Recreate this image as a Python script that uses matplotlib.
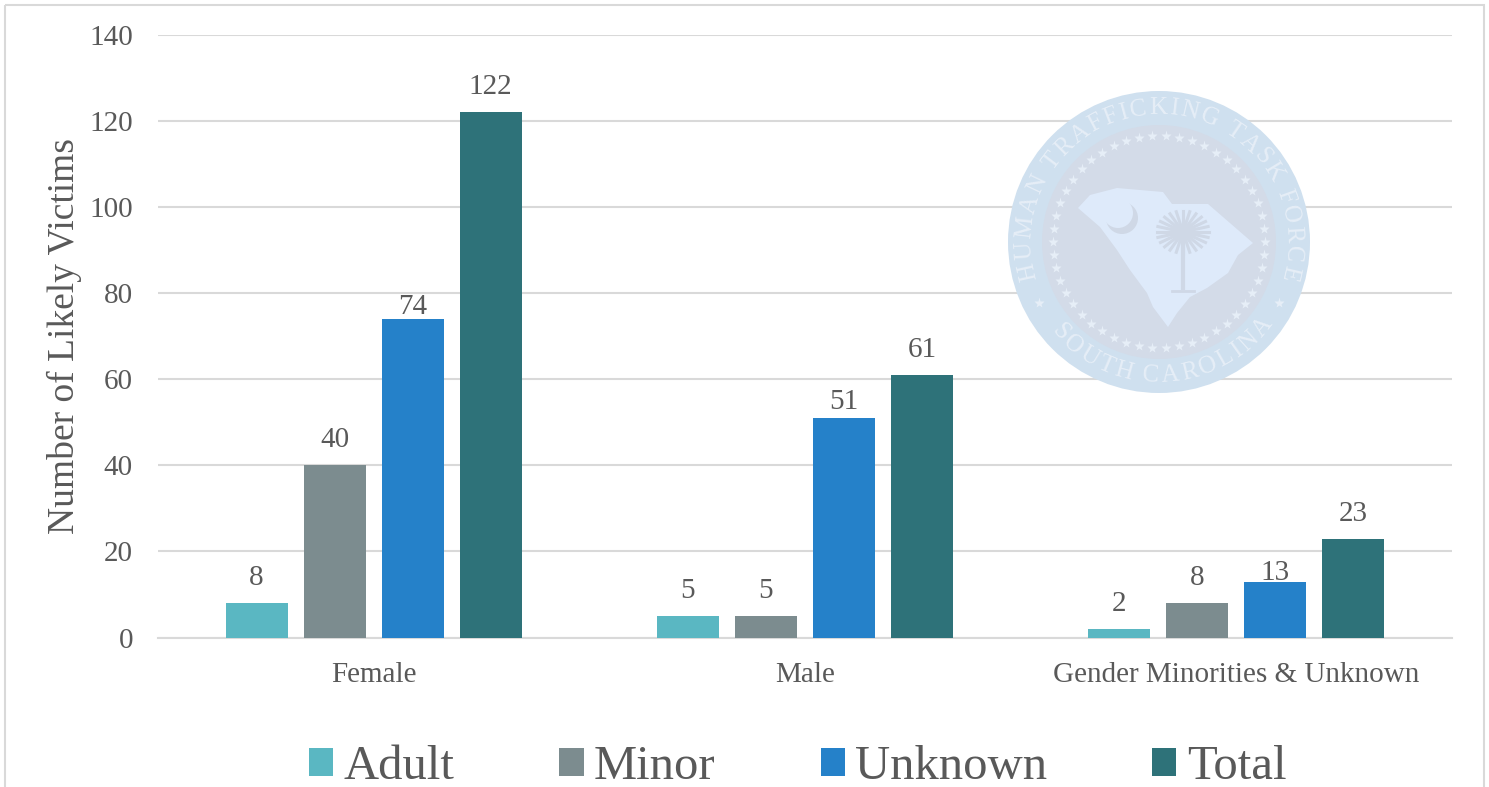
import numpy as np
import matplotlib
matplotlib.use('Agg')
import matplotlib.pyplot as plt
from matplotlib.patches import Circle, Polygon, Rectangle
from matplotlib.font_manager import FontProperties
from matplotlib.textpath import TextToPath

plt.rcParams['font.family'] = ['Liberation Serif', 'DejaVu Serif']

W, H = 1489, 787

categories = ['Female', 'Male', 'Gender Minorities & Unknown']
series_names = ['Adult', 'Minor', 'Unknown', 'Total']
adult = [8, 5, 2]
minor = [40, 5, 8]
unknown = [74, 51, 13]
total = [122, 61, 23]
y_ticks = [0, 20, 40, 60, 80, 100, 120, 140]

colors = ['#5AB7C2', '#7C8C8F', '#2581C9', '#2E7279']
text_grey = '#595959'
grid_grey = '#D9D9D9'

# gap between bar top and label baseline, px (Unknown labels sit lower in the original)
label_gaps = [[18, 18, 18], [18, 18, 18], [5, 9, 2], [18, 18, 18]]

fig = plt.figure(figsize=(W / 100, H / 100), dpi=100, facecolor='white')
ax = fig.add_axes([158 / W, (H - 637.5) / H, 1294 / W, 602.5 / H])

x = np.arange(len(categories))
bar_w = 62 / 431.33
step = 78 / 431.33
all_series = [adult, minor, unknown, total]
for i, vals in enumerate(all_series):
    xs = x + (i - 1.5) * step
    ax.bar(xs, vals, bar_w, color=colors[i], label=series_names[i], zorder=3)
    for xi, v, gap in zip(xs, vals, label_gaps[i]):
        ax.annotate(str(v), (xi, v), xytext=(0, gap * 0.72), textcoords='offset points',
                    ha='center', va='baseline', fontsize=21, color=text_grey, zorder=4)

ax.set_xlim(-0.5, 2.5)
ax.set_ylim(0, 140)
ax.set_yticks(y_ticks)
ax.set_xticks(x)
ax.set_xticklabels(categories)
ax.yaxis.grid(True, color=grid_grey, lw=1.5, zorder=0)
ax.set_axisbelow(True)
for name in ['top', 'left', 'right']:
    ax.spines[name].set_visible(False)
ax.spines['bottom'].set_color(grid_grey)
ax.spines['bottom'].set_linewidth(1.5)
ax.tick_params(axis='y', length=0, pad=18, labelsize=21, labelcolor=text_grey)
ax.tick_params(axis='x', length=0, pad=18, labelsize=21, labelcolor=text_grey)
ax.set_ylabel('Number of Likely Victims', fontsize=27, color=text_grey)
ax.yaxis.set_label_coords((82 - 158) / 1294, 0.501)

handles, labels = ax.get_legend_handles_labels()
fig.legend(handles, labels, ncol=4, loc='lower left', bbox_to_anchor=(309 / W, -2 / H),
           frameon=False, fontsize=35, labelcolor=text_grey, handlelength=0.5, handleheight=0.5,
           handletextpad=0.21, columnspacing=2.16, borderpad=0, borderaxespad=0)

# overlay in image pixels for the frame and the seal watermark
ov = fig.add_axes([0, 0, 1, 1], zorder=5)
ov.set_xlim(0, W)
ov.set_ylim(H, 0)
ov.axis('off')
ov.patch.set_alpha(0)
ov.add_patch(Rectangle((5, 5), 1479, 900, fill=False, ec=grid_grey, lw=1.5))

cx, cy = 1159, 242
seal_light = '#E6EEF7'
seal_dark = '#CFD8E6'
ov.add_patch(Circle((cx, cy), 151, fc='#CFE0EF', ec='none'))
ov.add_patch(Circle((cx, cy), 117, fc='#D3DBE8', ec='none'))

star_angles = np.linspace(0, 360, 50, endpoint=False)
ov.plot(cx + 106 * np.cos(np.radians(star_angles)), cy + 106 * np.sin(np.radians(star_angles)),
        ls='none', marker='*', ms=8, color=seal_light, mec='none')
for a in [207, -27]:
    ov.plot(cx + 135 * np.cos(np.radians(a)), cy - 135 * np.sin(np.radians(a)),
            marker='*', ms=8, color=seal_light, mec='none')

state_outline = [(1078, 208), (1090, 195), (1117, 188), (1163, 192), (1172, 204), (1208, 204),
                 (1253, 243), (1238, 255), (1228, 273), (1207, 288), (1190, 297), (1177, 313),
                 (1168, 327), (1153, 307), (1147, 293), (1130, 270), (1117, 250), (1100, 227)]
ov.add_patch(Polygon(state_outline, closed=True, fc='#DEEAFA', ec='none'))

# crescent
ov.add_patch(Circle((1122, 218), 16, fc=seal_dark, ec='none'))
ov.add_patch(Circle((1118, 213), 15, fc='#DEEAFA', ec='none'))

# palmetto
crown_x, crown_y = 1183, 232
ov.plot([crown_x, 1183], [crown_y, 290], color=seal_dark, lw=3, solid_capstyle='butt')
ov.plot([1172, 1194], [291, 291], color=seal_dark, lw=2)
for a in np.arange(0, 360, 15):
    ov.plot([crown_x, crown_x + 26 * np.cos(np.radians(a))],
            [crown_y, crown_y - 21 * np.sin(np.radians(a))],
            color=seal_dark, lw=2.2)


def arc_text(s, start, end, r, upper=True, size=18):
    # spread the letters over the arc by their own widths
    prop = FontProperties(family='Liberation Serif', size=size)
    ttp = TextToPath()
    widths = np.array([ttp.get_text_width_height_descent(c, prop, False)[0] for c in s]) + 1.0
    edges = np.concatenate([[0], np.cumsum(widths)]) / widths.sum()
    mids = (edges[:-1] + edges[1:]) / 2
    for c, m in zip(s, mids):
        a = start + (end - start) * m
        rot = a - 90 if upper else a + 90
        ov.text(cx + r * np.cos(np.radians(a)), cy - r * np.sin(np.radians(a)), c,
                fontsize=size, color=seal_light, rotation=rot, rotation_mode='anchor',
                ha='center', va='center')


arc_text('HUMAN TRAFFICKING TASK FORCE', 197, -17, 134)
arc_text('SOUTH CAROLINA', 219, 325, 134, upper=False)

fig.savefig('out.png', dpi=100)
